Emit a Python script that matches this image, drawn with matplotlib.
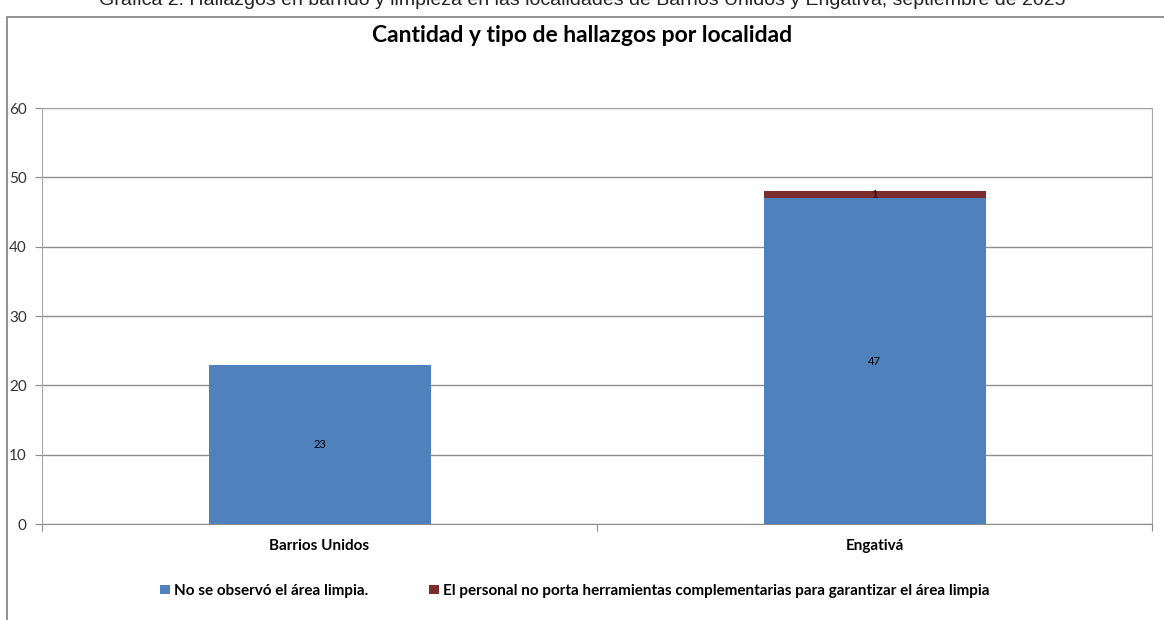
import matplotlib.pyplot as plt
from matplotlib.patches import Rectangle

# Datos de la gráfica
localidades = ["Barrios Unidos", "Engativá"]
no_area_limpia = [23, 47]
sin_herramientas = [0, 1]
series = ["No se observó el área limpia.",
          "El personal no porta herramientas complementarias para garantizar el área limpia"]
colores = ["#4F81BD", "#7B2C2C"]

plt.rcParams['font.family'] = ['Lato', 'DejaVu Sans']

fig = plt.figure(figsize=(11.64, 6.2), dpi=100)

# marco exterior del gráfico
fig.patches.append(Rectangle((7 / 1164, -0.1), 1.2, 1.1 - 17 / 620, transform=fig.transFigure,
                             fill=False, edgecolor="#7f7f7f", linewidth=1.2))

# leyenda superior (recortada como en el original)
fig.text(0.5, 1 - 5 / 620, "Gráfica 2. Hallazgos en barrido y limpieza en las localidades de Barrios Unidos y Engativá, septiembre de 2025",
         ha="center", va="baseline", fontsize=14, family="Liberation Sans", color="#222222")

ax = fig.add_axes([42 / 1164, 1 - 524 / 620, 1110 / 1164, 416 / 620])
x = range(len(localidades))
b1 = ax.bar(x, no_area_limpia, width=0.4, color=colores[0], label=series[0], zorder=3)
b2 = ax.bar(x, sin_herramientas, width=0.4, bottom=no_area_limpia, color=colores[1], label=series[1], zorder=3)

# etiquetas de datos
for i, v in enumerate(no_area_limpia):
    ax.text(i, v / 2, str(v), ha="center", va="center", fontsize=8, zorder=4)
for i, v in enumerate(sin_herramientas):
    if v > 0:
        ax.text(i, no_area_limpia[i] + v / 2, str(v), ha="center", va="center", fontsize=8, zorder=4)

ax.set_xlim(-0.5, len(localidades) - 0.5)
ax.set_ylim(0, 60)
ax.set_yticks(range(0, 61, 10))
ax.yaxis.grid(True, color="#8c8c8c", linewidth=1)
ax.set_axisbelow(True)
for s in ax.spines.values():
    s.set_color("#a6a6a6")
ax.spines["bottom"].set_color("#8c8c8c")

ax.set_xticks([-0.5, 0.5, 1.5], minor=False)
ax.set_xticklabels([])
ax.tick_params(axis="x", length=5, color="#8c8c8c")
ax.set_xticks(list(x), minor=True)
ax.set_xticklabels(localidades, minor=True, fontweight="bold", fontsize=11)
ax.tick_params(axis="x", which="minor", length=0, pad=11)
ax.tick_params(axis="y", length=5, color="#8c8c8c", labelsize=11, pad=6, labelcolor="#333333")

fig.text(0.5, 1 - 36 / 620, "Cantidad y tipo de hallazgos por localidad", ha="center", va="center",
         fontsize=16.5, fontweight="bold")

fig.legend(handles=[b1, b2], loc="center", bbox_to_anchor=(0.494, 1 - 591 / 620), ncol=2,
           frameon=False, prop={"weight": "bold", "size": 11}, handlelength=0.6, handleheight=0.6,
           handletextpad=0.3, columnspacing=4)

fig.savefig("out.png", dpi=100)
